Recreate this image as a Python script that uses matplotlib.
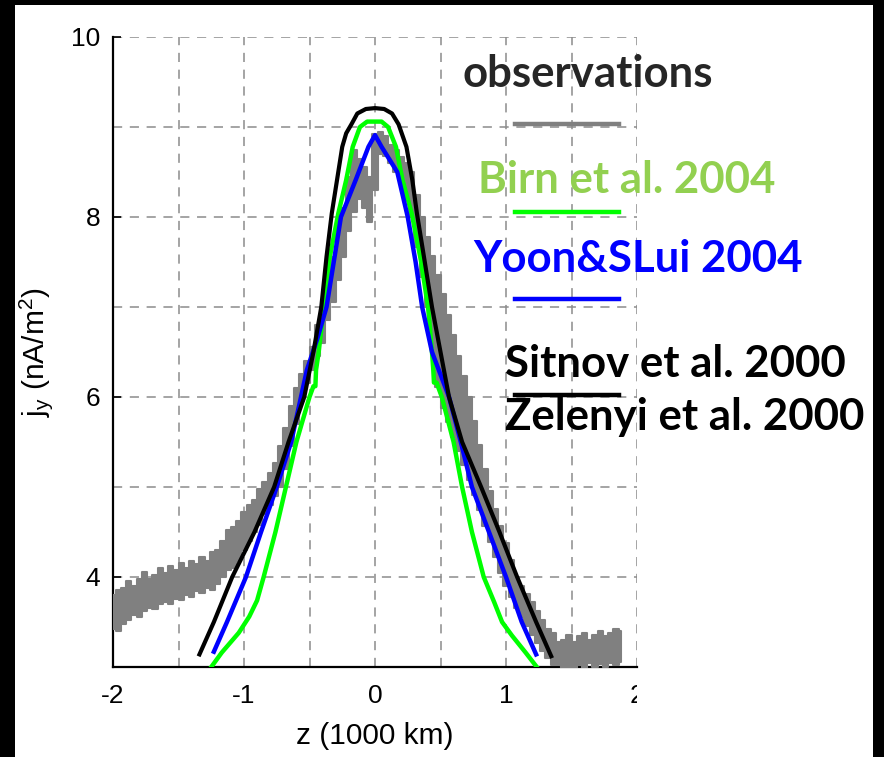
import numpy as np
import matplotlib
matplotlib.use("Agg")
import matplotlib.pyplot as plt
from matplotlib.patches import Rectangle
from matplotlib.lines import Line2D
from matplotlib.ticker import MultipleLocator
from matplotlib.transforms import Bbox, TransformedBbox

plt.rcParams['mathtext.default'] = 'regular'
plt.rcParams['axes.unicode_minus'] = False

# observed current density j_y(z): lower / upper edge of the noisy trace
obs_z = [-2.00, -1.96, -1.92, -1.88, -1.84, -1.80, -1.76, -1.72, -1.68, -1.64,
         -1.60, -1.56, -1.52, -1.48, -1.44, -1.40, -1.36, -1.32, -1.28, -1.24,
         -1.20, -1.16, -1.12, -1.08, -1.04, -1.00, -0.96, -0.92, -0.88, -0.84,
         -0.80, -0.76, -0.72, -0.68, -0.64, -0.60, -0.56, -0.52, -0.48, -0.44,
         -0.40, -0.36, -0.32, -0.28, -0.24, -0.20, -0.16, -0.12, -0.08, -0.04,
         0.00, 0.04, 0.08, 0.12, 0.16, 0.20, 0.24, 0.28, 0.32, 0.36,
         0.40, 0.44, 0.48, 0.52, 0.56, 0.60, 0.64, 0.68, 0.72, 0.76,
         0.80, 0.84, 0.88, 0.92, 0.96, 1.00, 1.04, 1.08, 1.12, 1.16,
         1.20, 1.24, 1.28, 1.32, 1.36, 1.40, 1.44, 1.48, 1.52, 1.56,
         1.60, 1.64, 1.68, 1.72, 1.76, 1.80, 1.84, 1.88]
obs_lo = [3.42, 3.40, 3.48, 3.52, 3.58, 3.55, 3.62, 3.66, 3.64, 3.70,
          3.72, 3.70, 3.76, 3.74, 3.80, 3.78, 3.84, 3.82, 3.88, 3.86,
          3.92, 4.00, 4.08, 4.10, 4.18, 4.30, 4.40, 4.50, 4.58, 4.70,
          4.80, 4.90, 5.00, 5.20, 5.45, 5.70, 5.95, 6.15, 6.30, 6.45,
          6.60, 6.85, 7.05, 7.30, 7.55, 7.85, 8.05, 8.20, 8.10, 7.95,
          8.30, 8.70, 8.68, 8.60, 8.50, 8.40, 8.20, 8.00, 7.67, 7.33,
          7.00, 6.56, 6.11, 5.88, 5.72, 5.56, 5.40, 5.24, 5.08, 4.91,
          4.74, 4.57, 4.39, 4.22, 4.04, 3.90, 3.78, 3.66, 3.55, 3.45,
          3.36, 3.27, 3.18, 3.10, 3.02, 3.02, 2.96, 3.00, 2.97, 3.02,
          2.98, 3.04, 3.00, 3.03, 3.00, 3.04, 3.02, 3.06]
obs_hi = [3.80, 3.85, 3.88, 3.95, 3.90, 3.98, 4.05, 3.98, 4.02, 4.10,
          4.04, 4.12, 4.08, 4.15, 4.10, 4.18, 4.14, 4.22, 4.18, 4.28,
          4.30, 4.40, 4.52, 4.55, 4.62, 4.72, 4.80, 4.86, 4.98, 5.05,
          5.15, 5.27, 5.45, 5.65, 5.90, 6.10, 6.25, 6.40, 6.55, 6.80,
          7.00, 7.20, 7.55, 7.80, 8.10, 8.45, 8.75, 8.65, 8.55, 8.45,
          8.92, 8.95, 8.90, 8.80, 8.75, 8.67, 8.60, 8.50, 8.25, 8.00,
          7.78, 7.57, 7.35, 7.14, 6.91, 6.69, 6.46, 6.23, 6.00, 5.73,
          5.47, 5.20, 4.95, 4.76, 4.57, 4.38, 4.19, 4.00, 3.90, 3.81,
          3.72, 3.62, 3.52, 3.42, 3.38, 3.28, 3.30, 3.36, 3.28, 3.34,
          3.38, 3.30, 3.36, 3.40, 3.34, 3.38, 3.42, 3.40]

# Sitnov et al. 2000 / Zelenyi et al. 2000
sitnov_z = [-1.34, -1.23, -1.09, -0.92, -0.77, -0.66, -0.54, -0.47, -0.41, -0.37,
            -0.33, -0.29, -0.25, -0.22, -0.18, -0.135, -0.07, 0.00, 0.07, 0.13,
            0.18, 0.24, 0.285, 0.32, 0.38, 0.435, 0.50, 0.565, 0.665, 0.81,
            0.95, 1.085, 1.23, 1.345]
sitnov_j = [3.14, 3.50, 4.00, 4.50, 5.00, 5.50, 6.00, 6.50, 7.00, 7.56,
            8.04, 8.41, 8.78, 8.93, 9.03, 9.15, 9.20, 9.21, 9.20, 9.15,
            9.03, 8.78, 8.41, 8.04, 7.50, 7.00, 6.50, 6.00, 5.50, 5.00,
            4.50, 4.00, 3.50, 3.12]

# Birn et al. 2004
birn_z = [-1.25, -1.17, -1.04, -0.96, -0.90, -0.85, -0.76, -0.68, -0.60,
          -0.50, -0.47, -0.455, -0.45, -0.43, -0.39, -0.35, -0.28, -0.22, -0.17,
          -0.115, -0.06, 0.05, 0.10, 0.16, 0.21, 0.28, 0.35, 0.405, 0.435,
          0.445, 0.45, 0.47, 0.51, 0.60, 0.665, 0.74, 0.83, 0.91, 0.97,
          1.045, 1.15, 1.235]
birn_j = [3.00, 3.16, 3.38, 3.56, 3.74, 4.00, 4.50, 5.00, 5.50,
          6.00, 6.12, 6.12, 6.30, 6.50, 7.00, 7.52, 8.04, 8.41, 8.78,
          9.00, 9.06, 9.06, 9.00, 8.78, 8.41, 8.04, 7.52, 7.00, 6.50,
          6.30, 6.16, 6.16, 6.00, 5.50, 5.00, 4.50, 4.00, 3.72, 3.50,
          3.35, 3.16, 3.00]

# Yoon & Lui 2004
yoon_z = [-1.23, -1.13, -0.985, -0.87, -0.75, -0.64, -0.565, -0.52, -0.44, -0.37,
          -0.315, -0.26, -0.145, -0.05, 0.00, 0.05, 0.17, 0.25, 0.31, 0.36,
          0.435, 0.565, 0.655, 0.74, 0.87, 1.00, 1.12, 1.23]
yoon_j = [3.17, 3.50, 4.00, 4.50, 5.00, 5.50, 6.00, 6.30, 6.65, 7.00,
          7.50, 8.00, 8.42, 8.78, 8.91, 8.78, 8.50, 8.00, 7.50, 7.00,
          6.50, 6.00, 5.50, 5.00, 4.50, 4.00, 3.50, 3.14]

W, H = 884, 757
fig = plt.figure(figsize=(W / 100, H / 100), dpi=100, facecolor='black')

# white panel inside the black frame
fig.patches.append(Rectangle((15 / W, 0), (873 - 15) / W, (H - 5) / H,
                             transform=fig.transFigure, facecolor='white',
                             edgecolor='none', zorder=-10))


def fx(px):
    return px / W


def fy(py):
    return 1 - py / H


ax = fig.add_axes([fx(113), fy(667), fx(637) - fx(113), fy(37) - fy(667)])
ax.set_facecolor('none')

ax.fill_between(obs_z, obs_lo, obs_hi, step='mid', facecolor='#808080',
                edgecolor='#808080', lw=1.5, zorder=3)
ax.plot(birn_z, birn_j, color='#00ff00', lw=3.2, zorder=4)
ax.plot(yoon_z, yoon_j, color='#0000ff', lw=3.2, zorder=5)
ax.plot(sitnov_z, sitnov_j, color='black', lw=3.0, zorder=6)

ax.set_xlim(-2, 2)
ax.set_ylim(3, 10)
ax.xaxis.set_major_locator(MultipleLocator(1))
ax.xaxis.set_minor_locator(MultipleLocator(0.5))
ax.set_yticks([4, 6, 8, 10])
ax.yaxis.set_minor_locator(MultipleLocator(1))
ax.grid(which='both', color='#8c8c8c', linestyle=(0, (6, 5)), lw=1.1)
ax.set_axisbelow(True)

for side in ['top', 'right']:
    ax.spines[side].set_visible(False)
for side in ['left', 'bottom']:
    ax.spines[side].set_linewidth(1.6)
ax.tick_params(which='both', direction='in', length=0, labelsize=19,
               labelfontfamily='Liberation Sans')
ax.tick_params(axis='y', which='major', length=6, width=1.2, pad=9)
ax.tick_params(axis='x', pad=12)

ax.set_xlabel('z (1000 km)', fontsize=21.5, family='Liberation Sans', labelpad=10)
ax.set_ylabel('j$_{y}$ (nA/m$^{2}$)', fontsize=21.5, family='Liberation Sans',
              labelpad=12)

# the last x tick label is cut at the panel edge
clip = TransformedBbox(Bbox([[0, 0], [fx(637), 1]]), fig.transFigure)
for lab in ax.get_xticklabels():
    lab.set_clip_box(clip)
    lab.set_clip_on(True)

# legend text and sample lines
font = dict(family='Lato', weight='bold', fontsize=31.5, ha='left', va='baseline')
fig.text(fx(463), fy(87), 'observations', color='#262626', **font)
fig.text(fx(478), fy(193), 'Birn et al. 2004', color='#92d050', **font)
fig.text(fx(473), fy(272), 'Yoon&SLui 2004', color='#0000ff', **font)
fig.text(fx(505), fy(377), 'Sitnov et al. 2000', color='black', **font)
fig.text(fx(505), fy(430), 'Zelenyi et al. 2000', color='black', **font)

for py, c in [(124, '#808080'), (212, '#00ff00'), (299, '#0000ff'), (395, 'black')]:
    fig.lines.append(Line2D([fx(515), fx(619)], [fy(py), fy(py)], color=c,
                            lw=3.2, transform=fig.transFigure))

fig.savefig('out.png', dpi=100, facecolor=fig.get_facecolor())
